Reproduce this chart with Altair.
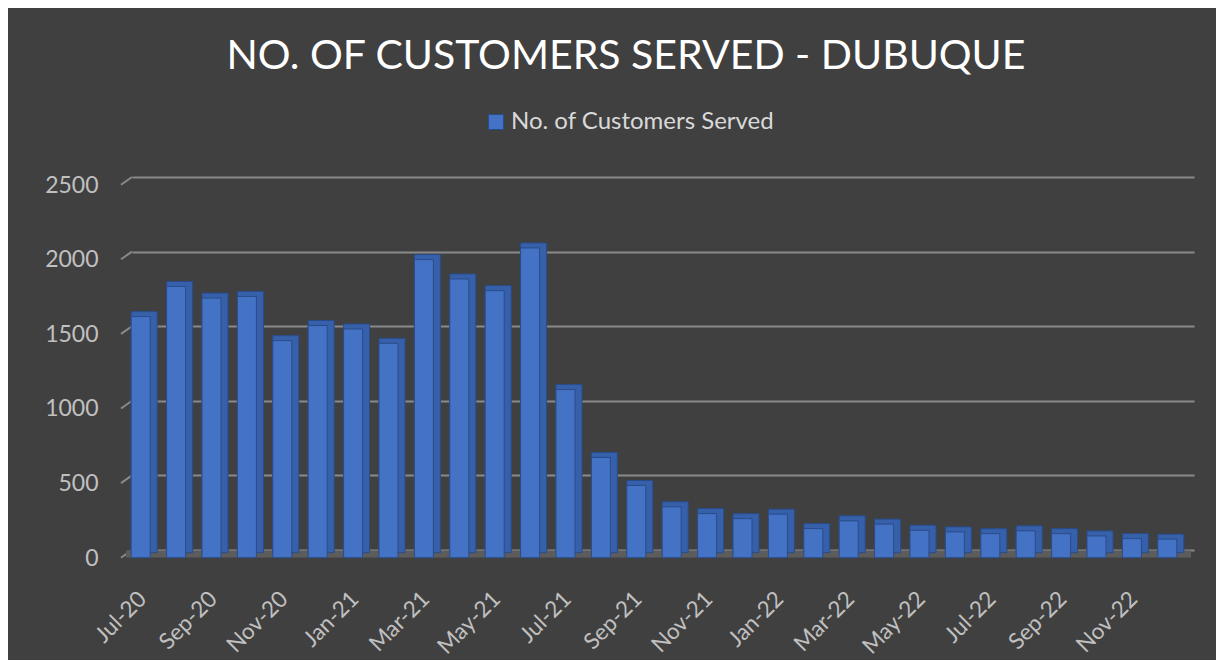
import altair as alt
import pandas as pd

months = ["Jul-20", "Aug-20", "Sep-20", "Oct-20", "Nov-20", "Dec-20",
          "Jan-21", "Feb-21", "Mar-21", "Apr-21", "May-21", "Jun-21",
          "Jul-21", "Aug-21", "Sep-21", "Oct-21", "Nov-21", "Dec-21",
          "Jan-22", "Feb-22", "Mar-22", "Apr-22", "May-22", "Jun-22",
          "Jul-22", "Aug-22", "Sep-22", "Oct-22", "Nov-22", "Dec-22"]
customers = [1616, 1818, 1740, 1751, 1455, 1556, 1533, 1437, 1998, 1868, 1790, 2076,
             1127, 672, 484, 341, 296, 262, 292, 195, 247, 225, 184, 173,
             161, 180, 161, 146, 128, 124]
shown_labels = months[::2]
y_ticks = [0, 500, 1000, 1500, 2000, 2500]
series_name = "No. of Customers Served"
title_text = "NO. OF CUSTOMERS SERVED - DUBUQUE"

df = pd.DataFrame({"month": months, "customers": customers, "series": series_name})
grid_df = pd.DataFrame({"v": y_ticks})

FONT = "Lato"
W, H = 1062, 373
GRID = "#8a8a8a"
LABEL = "#c0c0c0"

x_scale = alt.Scale(paddingInner=0, paddingOuter=0)
y_scale = alt.Scale(domain=[0, 2500], nice=False)

x_axis = alt.Axis(values=shown_labels, labelAngle=-45, labelAlign="right",
                  labelBaseline="middle", labelOffset=-7, labelPadding=45,
                  ticks=False, domain=False, grid=False, title=None,
                  labelFont=FONT, labelFontSize=22.5, labelColor=LABEL)
y_axis = alt.Axis(values=y_ticks, format="d", ticks=False, domain=False, grid=True,
                  gridColor=GRID, gridWidth=2, labelPadding=34, labelOffset=8,
                  labelFont=FONT, labelFontSize=23, labelColor=LABEL, title=None)

base = alt.Chart(df)

stubs = alt.Chart(grid_df).mark_rule(color=GRID, strokeWidth=2, yOffset=7.7).encode(
    x=alt.value(-11), x2=alt.value(0),
    y=alt.Y("v:Q", scale=y_scale, axis=y_axis), y2="v:Q")

floor = alt.Chart(grid_df).transform_filter("datum.v == 0").mark_rule(
    color="#5c5c5c", strokeWidth=7, yOffset=4).encode(
    x=alt.value(-6), x2=alt.value(W - 3),
    y=alt.Y("v:Q", scale=y_scale, axis=y_axis))

side = base.mark_bar(color="#3660A9", size=26, xOffset=-5.5, yOffset=2.7, y2Offset=2.7,
                     stroke="#2A4C8A", strokeWidth=1).encode(
    x=alt.X("month:N", sort=months, scale=x_scale, axis=x_axis),
    y=alt.Y("customers:Q", scale=y_scale, axis=y_axis))

front = base.mark_bar(size=19, xOffset=-9, yOffset=7.7, y2Offset=7.7,
                      stroke="#2A4C8A", strokeWidth=1).encode(
    x=alt.X("month:N", sort=months, scale=x_scale, axis=x_axis),
    y=alt.Y("customers:Q", scale=y_scale, axis=y_axis),
    color=alt.Color("series:N",
                    scale=alt.Scale(domain=[series_name], range=["#4472C4"]),
                    legend=alt.Legend(orient="none", legendX=352, legendY=-67,
                                      direction="horizontal", title=None,
                                      symbolType="square", symbolSize=225,
                                      symbolStrokeColor="#2A4C8A", symbolStrokeWidth=1,
                                      labelFont=FONT, labelFontSize=24, labelLimit=0,
                                      labelOffset=3, labelColor="#d9d9d9")))

chart = alt.layer(stubs, floor, side, front).properties(
    width=W, height=H,
    title=alt.TitleParams(title_text, font=FONT, fontSize=41, fontWeight="normal",
                          color="#ffffff", anchor="middle", dx=-37, offset=32),
    autosize=alt.AutoSizeParams(type="none"),
    padding={"left": 124, "top": 169, "right": 22, "bottom": 110},
    background="#404040",
).configure_view(stroke=None)

chart.save("out.html", embed_options={"renderer": "svg", "actions": False})
